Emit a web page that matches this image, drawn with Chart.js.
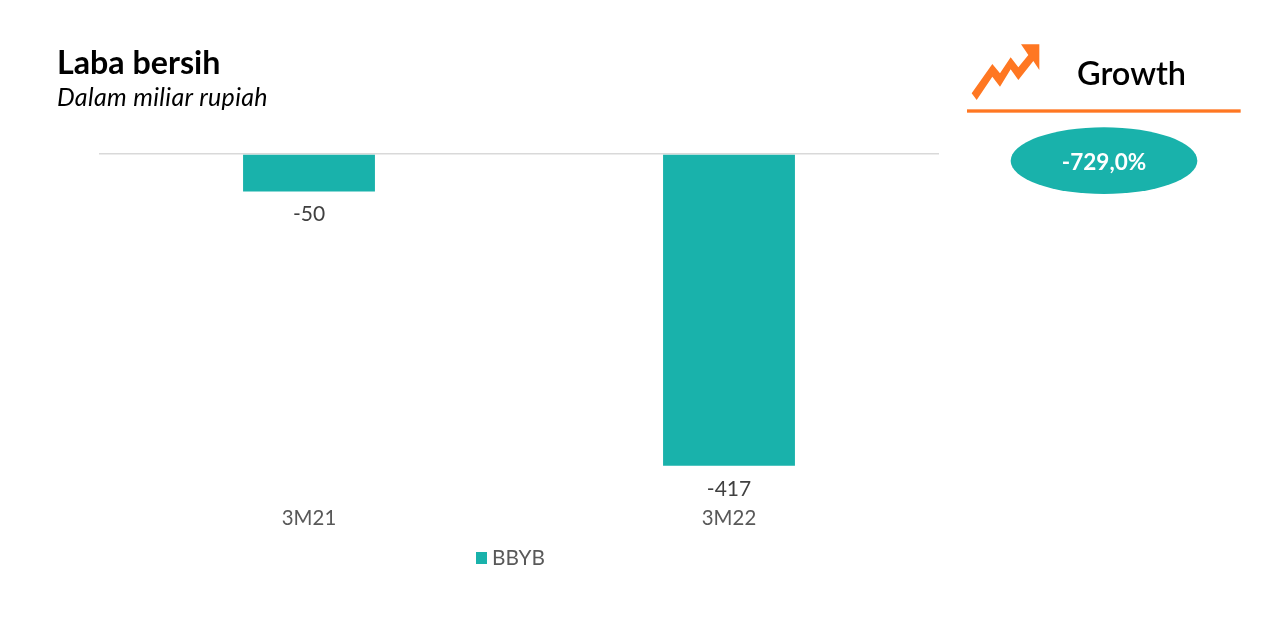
<!DOCTYPE html>
<html><head><meta charset="utf-8">
<style>
html,body{margin:0;padding:0;background:#fff;width:1282px;height:617px;overflow:hidden;font-family:Lato,sans-serif}
#wrap{position:absolute;left:0;top:0;width:1020px;height:617px}
.t{position:absolute;white-space:nowrap;line-height:1}
#title{left:57px;top:46px;font-size:32.2px;font-weight:700;color:#000}
#sub{left:57px;top:84px;font-size:25px;font-style:italic;font-weight:400;letter-spacing:0.34px;color:#000}
#growth{left:1077px;top:57px;font-size:32.5px;font-weight:600;color:#000}
#pct{left:1010px;width:188px;text-align:center;top:151px;font-size:22.5px;font-weight:700;color:#fff}
svg{position:absolute;left:960px;top:30px}
</style></head><body>
<div id="wrap"><canvas id="c" width="1020" height="617"></canvas></div>
<div class="t" id="title">Laba bersih</div>
<div class="t" id="sub">Dalam miliar rupiah</div>
<svg width="290" height="170" viewBox="0 0 870 510">
<polygon fill="#FF7722" points="35,190 97,102 120,130 152,82 175,112 205,75 183,43 238,43 238,120 220,93 175,150 152,118 120,170 97,140 50,210"/>
<rect x="21" y="238" width="821" height="10" fill="#FF7722"/>
<ellipse cx="432" cy="392" rx="280" ry="100" fill="#19B2AB"/>
</svg>
<div class="t" id="growth">Growth</div>
<div class="t" id="pct">-729,0%</div>
<script src="https://cdn.jsdelivr.net/npm/chart.js@4/dist/chart.umd.min.js"></script>
<script>
const categories = ['3M21', '3M22'];
const seriesName = 'BBYB';
const values = [-50, -417];
const valueLabels = ['-50', '-417'];
const teal = '#19B2AB';

const labelPlugin = {
  id: 'valueLabels',
  afterDatasetsDraw(chart) {
    const ctx = chart.ctx;
    const meta = chart.getDatasetMeta(0);
    ctx.save();
    ctx.font = '400 21px Lato';
    ctx.fillStyle = '#404040';
    ctx.textAlign = 'center';
    ctx.textBaseline = 'middle';
    meta.data.forEach((bar, i) => ctx.fillText(valueLabels[i], bar.x, bar.y + 23));
    ctx.restore();
  }
};

const legendPlugin = {
  id: 'sideLegend',
  afterDraw(chart) {
    const ctx = chart.ctx;
    const ds = chart.data.datasets[0];
    ctx.save();
    ctx.fillStyle = ds.backgroundColor;
    ctx.fillRect(476, 552, 11, 12);
    ctx.font = '400 20.8px Lato';
    ctx.fillStyle = '#595959';
    ctx.textBaseline = 'middle';
    ctx.fillText(ds.label, 492, 558);
    ctx.restore();
  }
};

new Chart(document.getElementById('c'), {
  type: 'bar',
  data: { labels: categories, datasets: [{ label: seriesName, data: values, backgroundColor: teal, borderWidth: 0, categoryPercentage: 0.314, barPercentage: 1 }] },
  plugins: [labelPlugin, legendPlugin],
  options: {
    responsive: false,
    animation: false,
    layout: { padding: { left: 99, right: 81, top: 154, bottom: 70 } },
    plugins: {
      tooltip: { enabled: false },
      legend: { display: false }
    },
    scales: {
      x: {
        position: 'bottom',
        grid: { display: false, drawTicks: false },
        border: { display: false },
        ticks: { padding: 16, color: '#595959', font: { family: 'Lato', size: 20.4 } }
      },
      y: {
        min: -450, max: 0,
        ticks: { display: false, stepSize: 450 },
        grid: { drawTicks: false, lineWidth: 1.5, color: c => c.tick.value === 0 ? '#D9D9D9' : 'rgba(0,0,0,0)' },
        border: { display: false }
      }
    }
  }
});
</script>
</body></html>
